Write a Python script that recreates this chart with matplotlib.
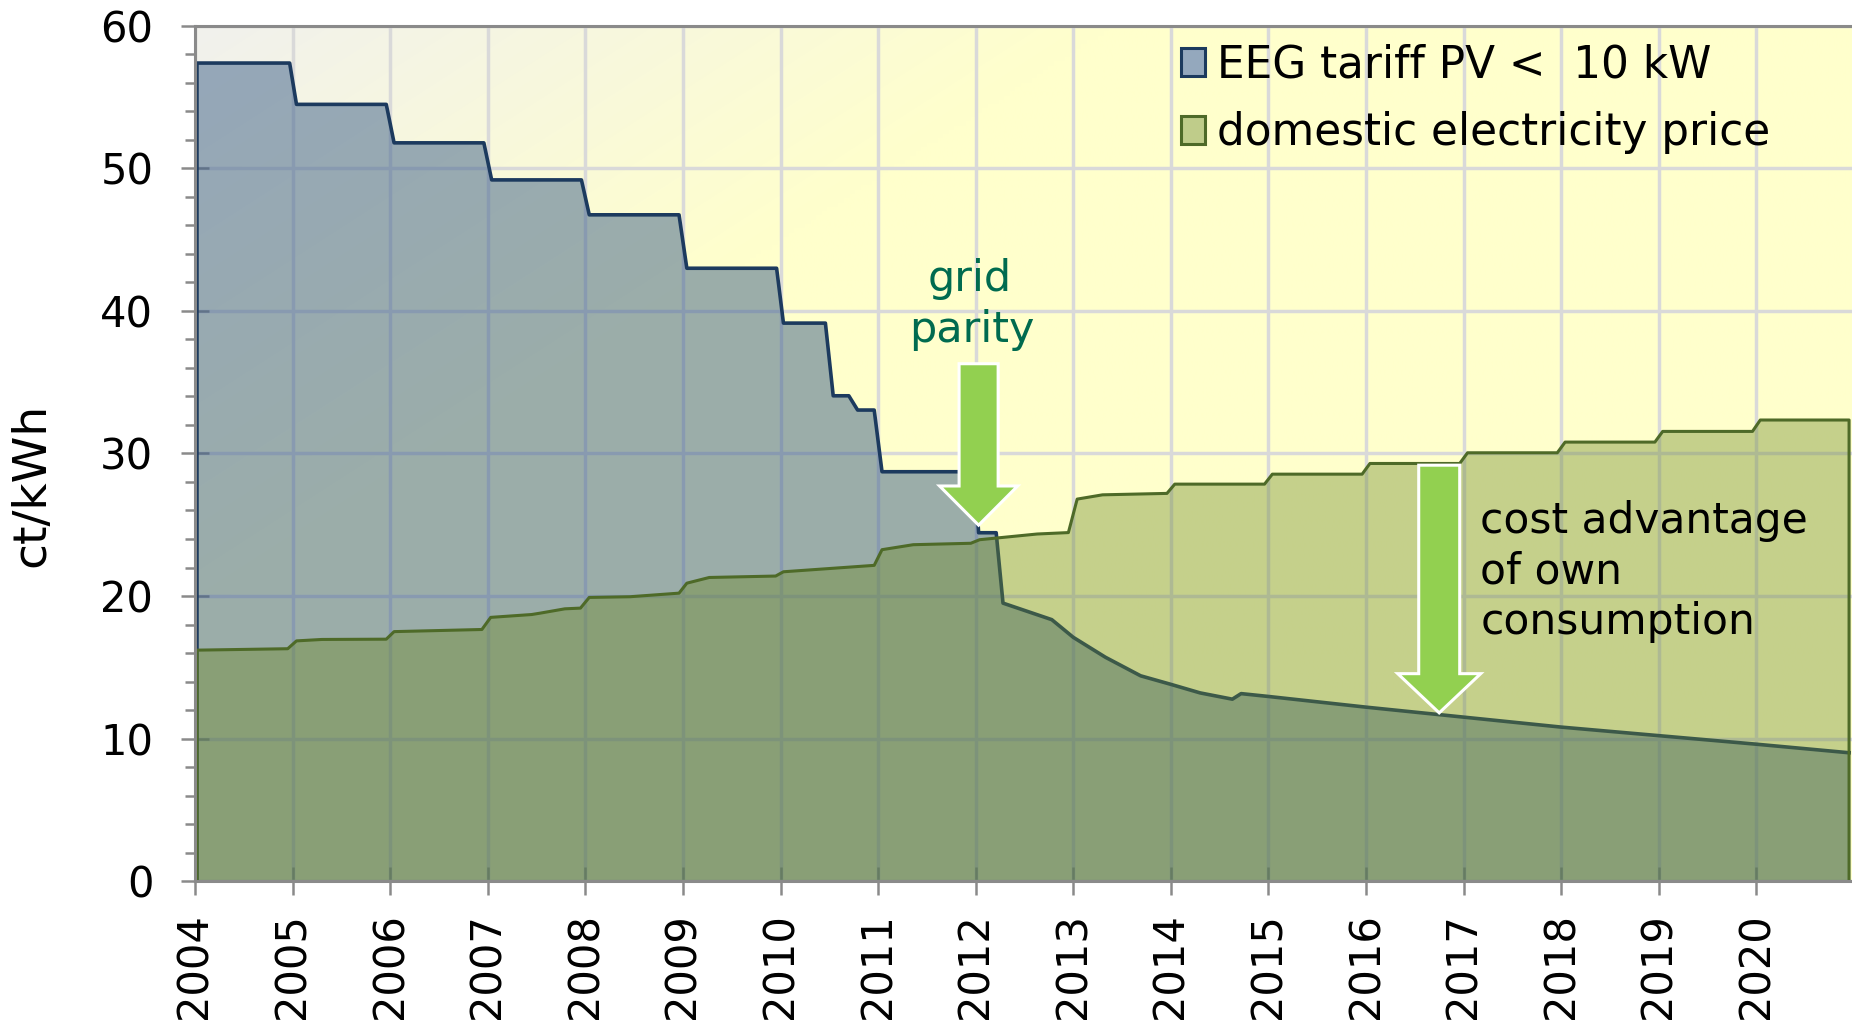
import numpy as np
import matplotlib
matplotlib.use("Agg")
import matplotlib.pyplot as plt
from matplotlib.patches import Patch, FancyArrow

# ---------------- data ----------------
eeg_years = [2004.02, 2004.97, 2005.04, 2005.96, 2006.04, 2006.96, 2007.04, 2007.96,
             2008.04, 2008.96, 2009.04, 2009.96, 2010.03, 2010.46, 2010.54, 2010.70,
             2010.79, 2010.96, 2011.04, 2011.99, 2012.03, 2012.21, 2012.28, 2012.78,
             2013.00, 2013.33, 2013.69, 2014.00, 2014.30, 2014.63, 2014.72, 2015.00,
             2016.00, 2017.00, 2018.00, 2019.00, 2020.00, 2020.95]
eeg_values = [57.4, 57.4, 54.5, 54.5, 51.8, 51.8, 49.2, 49.2,
              46.75, 46.75, 43.0, 43.0, 39.15, 39.15, 34.05, 34.05,
              33.05, 33.05, 28.72, 28.72, 24.44, 24.44, 19.5, 18.34,
              17.1, 15.7, 14.4, 13.8, 13.2, 12.76, 13.15, 12.95,
              12.2, 11.5, 10.8, 10.2, 9.6, 9.0]

price_years = [2004.02, 2004.95, 2005.04, 2005.30, 2005.96, 2006.04, 2006.94, 2007.03,
               2007.45, 2007.54, 2007.79, 2007.95, 2008.04, 2008.46, 2008.96, 2009.04,
               2009.27, 2009.95, 2010.03, 2010.96, 2011.04, 2011.36, 2011.95, 2012.04,
               2012.63, 2012.95, 2013.04, 2013.30, 2013.96, 2014.04, 2014.96, 2015.04,
               2015.96, 2016.04, 2016.96, 2017.04, 2017.96, 2018.04, 2018.96, 2019.04,
               2019.96, 2020.04, 2020.95]
price_values = [16.2, 16.3, 16.85, 16.95, 16.97, 17.5, 17.65, 18.5,
                18.7, 18.8, 19.1, 19.15, 19.9, 19.95, 20.2, 20.9,
                21.3, 21.4, 21.7, 22.15, 23.25, 23.6, 23.7, 23.95,
                24.35, 24.45, 26.8, 27.1, 27.2, 27.85, 27.85, 28.55,
                28.55, 29.3, 29.3, 30.05, 30.05, 30.8, 30.8, 31.55,
                31.55, 32.35, 32.35]

year_ticks = list(range(2004, 2021))
y_ticks = [0, 10, 20, 30, 40, 50, 60]
legend_labels = ["EEG tariff PV <  10 kW", "domestic electricity price"]

# annotation arrows (x, top, tip) in data units
parity_arrow = (2012.03, 36.3, 24.97)
advantage_arrow = (2016.75, 29.18, 11.8)

# ---------------- styling ----------------
plt.rcParams['font.family'] = ['DejaVu Sans']
W, H = 1852, 1027
fig = plt.figure(figsize=(W / 100, H / 100), dpi=100)
ax = fig.add_axes([195 / W, 1 - 881 / H, (W - 195) / W, (881 - 26) / H])

ax.set_xlim(2004, 2020.98)
ax.set_ylim(0, 60)

# background gradient
nx, ny = 300, 200
u = np.linspace(0, 1, nx)[None, :]
v = np.linspace(1, 0, ny)[:, None]
t = np.clip((u * 1.0 + (1 - v) * 0.8) / 0.55, 0, 1)
c0 = np.array([0.945, 0.945, 0.93])
c1 = np.array([1.0, 1.0, 0.80])
img = c0[None, None, :] * (1 - t[..., None]) + c1[None, None, :] * t[..., None]
ax.imshow(img, extent=[0, 1, 0, 1], transform=ax.transAxes, aspect='auto', zorder=0,
          interpolation='bilinear')

# grid
ax.set_axisbelow(True)
ax.grid(True, which='major', color='#d9d9d9', linewidth=2.5, zorder=0.5)

# EEG tariff fill (semi transparent blue, navy outline)
navy = '#1c3a5e'
blue_face = (57 / 255, 93 / 255, 136 / 255, 0.5)
ax.fill_between(eeg_years, eeg_values, 0, facecolor=blue_face, edgecolor='none', zorder=2)
ax.plot([eeg_years[0]] + eeg_years, [0] + eeg_values, color=navy, linewidth=2.6, zorder=2.1)

# electricity price fill (semi transparent olive, drawn on top)
olive_line = '#4e6a28'
green_face = (110 / 255, 138 / 255, 42 / 255, 0.4)
ax.fill_between(price_years, price_values, 0, facecolor=green_face, edgecolor='none', zorder=3)
ax.plot([price_years[0]] + price_years + [price_years[-1]],
        [0] + price_values + [0], color=olive_line, linewidth=2.2, zorder=3.1)

# arrows
for (ax_x, top, tip), sw, hw in [(parity_arrow, 0.40, 0.80), (advantage_arrow, 0.42, 0.85)]:
    arr = FancyArrow(ax_x, top, 0, tip - top, width=sw, head_width=hw, head_length=2.75,
                     length_includes_head=True, facecolor='#92d050', edgecolor='white',
                     linewidth=2.2, zorder=5)
    ax.add_patch(arr)

# texts
teal = '#006b4f'
ax.text(2011.94, 41.4, 'grid', ha='center', va='baseline', color=teal, fontsize=31, zorder=6)
ax.text(2011.96, 37.8, 'parity', ha='center', va='baseline', color=teal, fontsize=31, zorder=6)
for txt, yb in [('cost advantage', 24.43), ('of own', 20.88), ('consumption', 17.32)]:
    ax.text(2017.17, yb, txt, ha='left', va='baseline', color='black', fontsize=30.5, zorder=6)

# ticks and spines
spine_col = '#8a8a8a'
ax.set_xticks(year_ticks)
ax.set_xticklabels([str(y) for y in year_ticks], rotation=90, fontsize=30)
ax.set_yticks(y_ticks)
ax.set_yticklabels([str(v) for v in y_ticks], fontsize=30)
ax.set_yticks(np.arange(0, 61, 2), minor=True)
ax.tick_params(axis='x', which='major', direction='inout', length=20, width=1.8,
               color=spine_col, pad=13)
ax.tick_params(axis='y', which='major', direction='inout', length=20, width=1.8,
               color=spine_col, pad=20)
ax.tick_params(axis='y', which='minor', direction='out', length=7.5, width=1.8,
               color=spine_col)
ax.tick_params(axis='x', which='minor', bottom=False)
for s in ['left', 'bottom', 'top']:
    ax.spines[s].set_color(spine_col)
    ax.spines[s].set_linewidth(2.2)
    ax.spines[s].set_zorder(4)
ax.spines['right'].set_visible(False)

ax.set_ylabel('ct/kWh', fontsize=34)
ax.yaxis.set_label_coords(-0.085, 0.463)

# legend
handles = [Patch(facecolor=(0.58, 0.66, 0.74), edgecolor=navy, linewidth=2.2),
           Patch(facecolor=(0.75, 0.80, 0.54), edgecolor=olive_line, linewidth=2.2)]
leg = ax.legend(handles, legend_labels, loc='upper left', bbox_to_anchor=(0.595, 0.980),
                frameon=False, fontsize=31.5, handlelength=0.56, handleheight=0.62,
                handletextpad=0.26, labelspacing=0.58, borderpad=0, borderaxespad=0)
leg.set_zorder(7)

fig.savefig('out.png', dpi=100)
